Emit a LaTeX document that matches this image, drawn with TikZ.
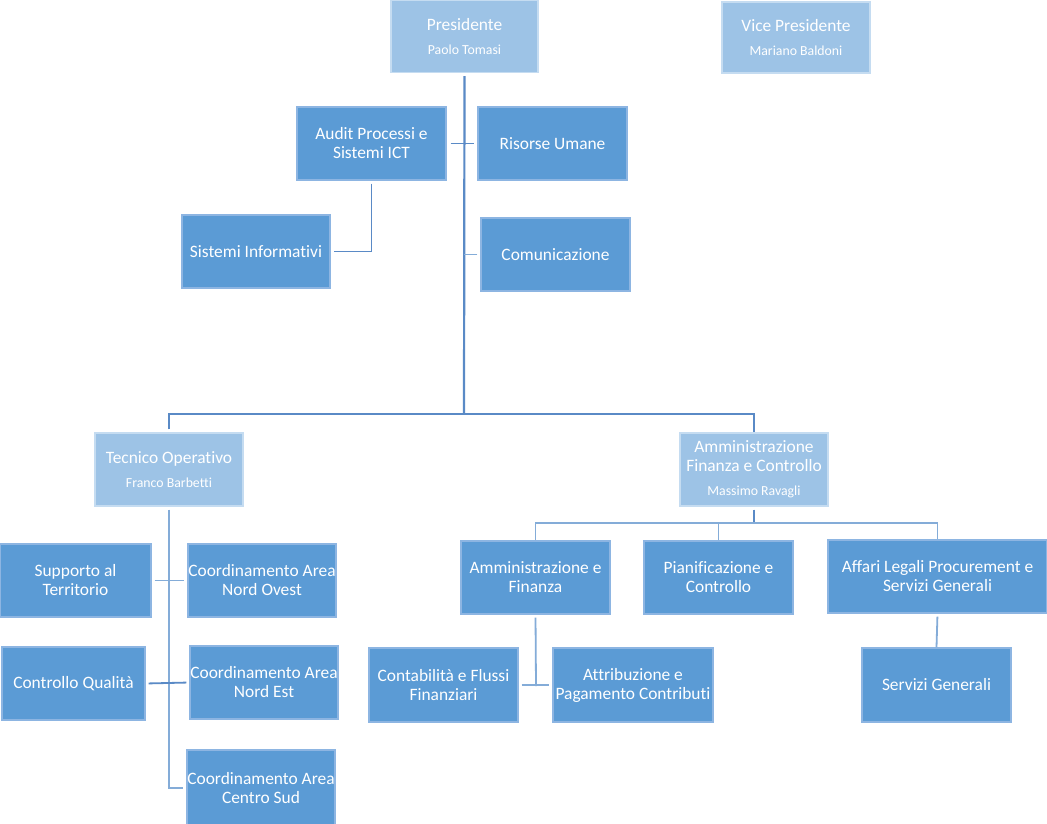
\documentclass[tikz,border=0pt]{standalone}
\usepackage{fontspec}
\setmainfont{Carlito}[Ligatures={NoCommon}]
\definecolor{dblue}{HTML}{5B9BD5}
\definecolor{lblue}{HTML}{9DC3E6}
\definecolor{dborder}{HTML}{8DB5E2}
\definecolor{lborder}{HTML}{C5DCF1}
\definecolor{linec}{HTML}{5A8AC6}
\definecolor{linel}{HTML}{84ACD8}
\tikzset{
  box/.style={rectangle, draw, line width=1.2pt, text=white, align=center,
    inner sep=0pt, font=\fontsize{17.4}{19}\selectfont},
  dbox/.style={box, fill=dblue, draw=dborder},
  lbox/.style={box, fill=lblue, draw=lborder},
  conn/.style={draw=linec, line width=1.8pt},
  connl/.style={draw=linel, line width=1.8pt},
}
\newcommand{\nm}[1]{\\[5pt]{\fontsize{13.8}{14}\selectfont #1}}
\begin{document}
\begin{tikzpicture}[x=1pt,y=-1pt]
\useasboundingbox[fill=white] (0,0) rectangle (1047,824);
% boxes: center, width, height
\node[lbox, minimum width=147, minimum height=72] (pres) at (464.5,36.5) {Presidente\nm{Paolo Tomasi}};
\node[lbox, minimum width=148, minimum height=71] (vice) at (796,37.5) {Vice Presidente\nm{Mariano Baldoni}};
\node[dbox, minimum width=149, minimum height=73] (audit) at (371.5,143.5) {Audit Processi e\\Sistemi ICT};
\node[dbox, minimum width=149, minimum height=73] (ris) at (552.5,143.5) {Risorse Umane};
\node[dbox, minimum width=148, minimum height=73] (sis) at (256,251.5) {Sistemi Informativi};
\node[dbox, minimum width=149, minimum height=73] (com) at (555.5,254.5) {Comunicazione};
\node[lbox, minimum width=148, minimum height=73] (tec) at (169,469.5) {Tecnico Operativo\nm{Franco Barbetti}};
\node[lbox, minimum width=148, minimum height=73] (afc) at (754,469.5) {Amministrazione\\Finanza e Controllo\nm{Massimo Ravagli}};
\node[dbox, minimum width=151, minimum height=73] (sup) at (75.5,580.5) {Supporto al\\Territorio};
\node[dbox, minimum width=148, minimum height=73] (no) at (262,580.5) {Coordinamento Area\\Nord Ovest};
\node[dbox, minimum width=143, minimum height=73] (cq) at (73.5,683.5) {Controllo Qualità};
\node[dbox, minimum width=148, minimum height=73] (ne) at (264,682.5) {Coordinamento Area\\Nord Est};
\node[dbox, minimum width=148, minimum height=76] (cs) at (261,788) {Coordinamento Area\\Centro Sud};
\node[dbox, minimum width=149, minimum height=73] (aef) at (535.5,577.5) {Amministrazione e\\Finanza};
\node[dbox, minimum width=149, minimum height=73] (pc) at (718.5,577.5) {Pianificazione e\\Controllo};
\node[dbox, minimum width=219, minimum height=73] (aff) at (937.5,576.5) {Affari Legali Procurement e\\Servizi Generali};
\node[dbox, minimum width=149, minimum height=74] (cont) at (443.5,685) {Contabilità e Flussi\\Finanziari};
\node[dbox, minimum width=160, minimum height=74] (att) at (633,685) {Attribuzione e\\Pagamento Contributi};
\node[dbox, minimum width=149, minimum height=74] (sg) at (936.5,685) {Servizi Generali};
% junctions
\coordinate (j1) at (464,414);
\coordinate (j2) at (754,523);
\coordinate (j3) at (536,686);
% connectors
\draw[conn, line width=2.2pt, shorten <=3pt] (pres.south) -- (j1);
\draw[conn, shorten <=3pt] (tec.north) |- (j1) -| (afc.north);
\draw[conn, shorten <=4pt, shorten >=3pt] (audit.east) -- (ris.west);
\draw[conn, shorten <=3pt, shorten >=3pt] (audit.south) |- (sis.east);
\draw[connl, shorten <=3pt] (com.west) -- (com.west -| j1);
\draw[connl, shorten <=3pt, shorten >=3pt] (tec.south) |- (cs.west);
\draw[connl, shorten <=3pt, shorten >=3pt] (sup.east) -- (no.west);
\draw[conn, shorten <=3pt, shorten >=3pt] (cq.east) -- (ne.west);
\draw[conn, shorten <=3pt] (afc.south) -- (j2);
\draw[connl] (aef.north) |- (j2) -| (aff.north);
\draw[connl] (pc.north) -- (pc.north |- j2);
\draw[connl, shorten <=3pt] (aef.south) -- (j3);
\draw[connl, shorten <=3pt, shorten >=3pt] (cont.east) -- (att.west);
\draw[connl, shorten <=3pt] (aff.south) -- (sg.north);
\end{tikzpicture}
\end{document}
